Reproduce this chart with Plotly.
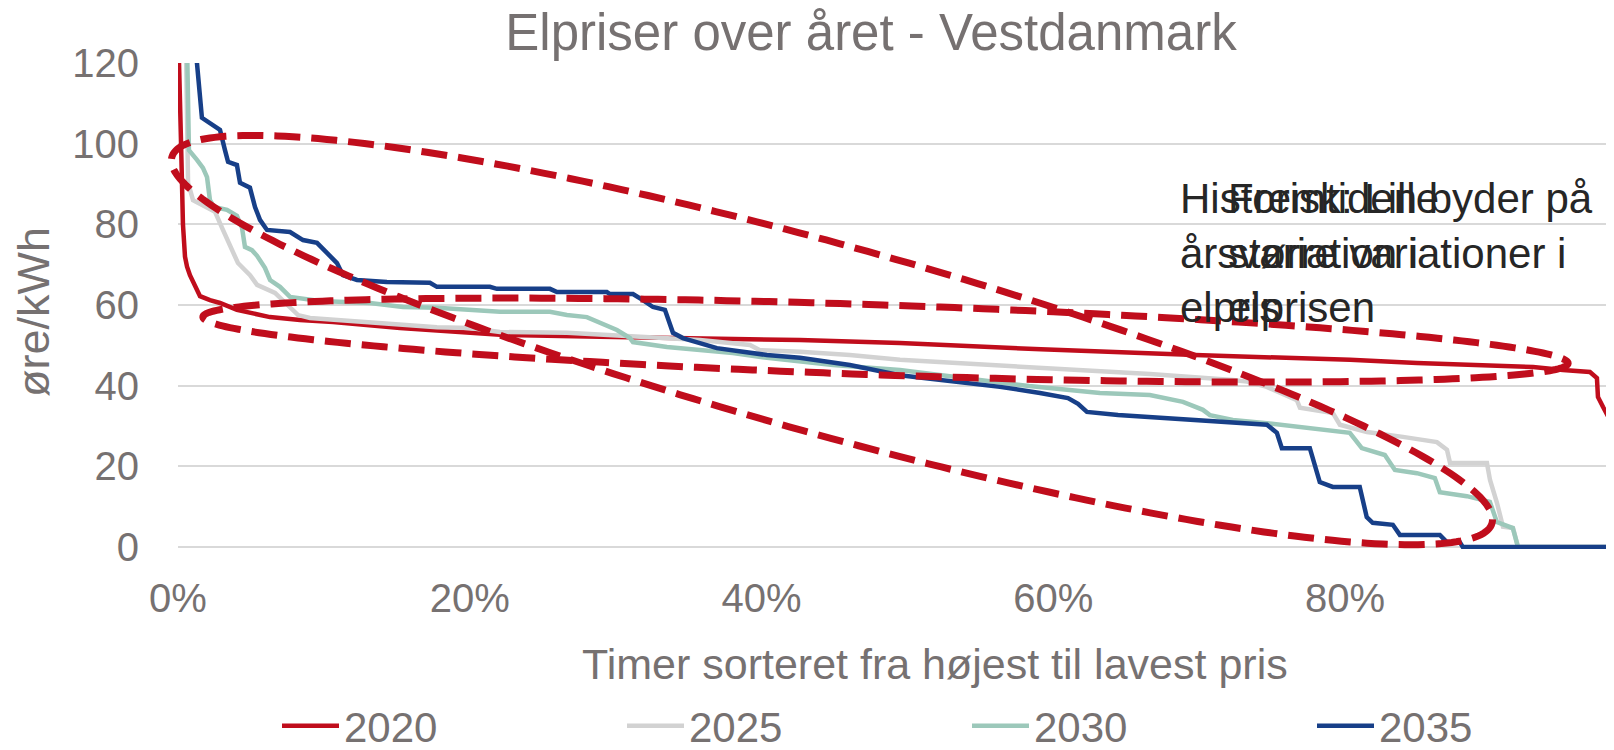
import numpy as np
import plotly.graph_objects as go

# ---------------- data (share of hours, sorted high -> low ; price in øre/kWh) -------------
hours_2020 = [0.0, 0.0007, 0.0021, 0.0034, 0.0048, 0.0062, 0.0082, 0.0117, 0.0151, 0.0219,
              0.0288, 0.0404, 0.063, 0.0836, 0.1063, 0.1522, 0.2207, 0.2893, 0.3578, 0.4264,
              0.4949, 0.5916, 0.6972, 0.776, 0.8034, 0.8493, 0.8946, 0.9289, 0.9494, 0.9679,
              0.9727, 0.9734, 0.9769, 0.9817, 0.9844]
price_2020 = [250, 120, 100, 80, 72, 69.5, 67.4, 64.5, 62.2, 61.2,
              60.5, 58.8, 57.0, 56.3, 55.8, 54.3, 52.6, 52.1, 51.8, 51.3,
              50.6, 49.0, 47.6, 46.9, 46.4, 45.6, 45.1, 44.6, 43.9, 43.4,
              41.9, 37.2, 34.7, 31.5, 29.0]

hours_2025 = [0.0, 0.0055, 0.0069, 0.0103, 0.0185, 0.0254, 0.0302, 0.0356, 0.0411, 0.0494,
              0.0542, 0.0665, 0.0747, 0.0823, 0.0905, 0.109, 0.1316, 0.1522, 0.1775, 0.2001,
              0.2207, 0.2666, 0.3119, 0.3578, 0.3921, 0.3989, 0.4264, 0.4606, 0.4949, 0.5916,
              0.6663, 0.7232, 0.7328, 0.7464, 0.767, 0.7691, 0.7917, 0.7965, 0.815, 0.8397,
              0.863, 0.8699, 0.872, 0.8973, 0.8994, 0.9042, 0.9083, 0.9152, 0.9179, 0.9186,
              0.9844]
price_2025 = [250, 120, 90.3, 86.0, 84.3, 83.1, 79.1, 74.9, 70.4, 67.4,
              65.0, 63.0, 60.0, 57.5, 56.8, 56.3, 55.8, 55.0, 54.5, 54.3,
              53.3, 53.1, 52.1, 51.3, 50.1, 48.8, 48.4, 47.6, 46.4, 44.4,
              42.9, 41.4, 41.0, 39.7, 36.4, 34.5, 33.2, 30.3, 28.5, 27.3,
              26.0, 24.1, 20.8, 20.8, 16.6, 10.9, 5.0, 4.7, 1.2, 0,
              0]

hours_2030 = [0.0, 0.0068, 0.0075, 0.013, 0.0171, 0.0199, 0.0219, 0.0247, 0.0336, 0.0404,
              0.0439, 0.0459, 0.0507, 0.0542, 0.0596, 0.0631, 0.0699, 0.0768, 0.0973, 0.1316,
              0.1542, 0.1775, 0.2001, 0.2207, 0.255, 0.2666, 0.2803, 0.2893, 0.3009, 0.3098,
              0.3119, 0.3352, 0.3578, 0.3804, 0.4037, 0.4264, 0.449, 0.4949, 0.5395, 0.5834,
              0.632, 0.6662, 0.6889, 0.7026, 0.7074, 0.7231, 0.7464, 0.769, 0.8033, 0.8115,
              0.8273, 0.8342, 0.8493, 0.8616, 0.865, 0.8835, 0.8993, 0.9041, 0.915, 0.9178,
              0.9185, 0.9844]
price_2030 = [250, 120, 98.4, 96.0, 94.0, 91.7, 86.0, 84.3, 83.6, 82.1,
              79.1, 74.4, 73.6, 72.2, 69.2, 66.2, 64.5, 62.0, 61.0, 60.5,
              59.5, 59.3, 58.8, 58.3, 58.3, 57.5, 57.0, 55.5, 53.8, 51.8,
              50.8, 49.6, 48.8, 48.1, 46.9, 45.9, 45.1, 43.9, 41.9, 39.9,
              38.2, 37.7, 36.0, 34.0, 32.7, 31.5, 30.7, 29.8, 28.3, 24.5,
              22.8, 19.1, 18.3, 17.1, 13.6, 12.6, 11.2, 6.2, 4.7, 1.0,
              0, 0]

hours_2035 = [0.0, 0.0130, 0.0164, 0.024, 0.0288, 0.0322, 0.0343, 0.0404, 0.0425, 0.0493,
              0.0528, 0.0562, 0.061, 0.0768, 0.0857, 0.0953, 0.1021, 0.109, 0.1131, 0.1227,
              0.1432, 0.1727, 0.1775, 0.2138, 0.2186, 0.255, 0.2598, 0.294, 0.2961, 0.3119,
              0.3187, 0.3256, 0.3338, 0.3372, 0.3393, 0.3461, 0.3578, 0.3694, 0.3873, 0.4037,
              0.4263, 0.4606, 0.4949, 0.5292, 0.5635, 0.5909, 0.6101, 0.617, 0.6231, 0.6444,
              0.6972, 0.7465, 0.7533, 0.7567, 0.7759, 0.7807, 0.7827, 0.7916, 0.8101, 0.8149,
              0.819, 0.8328, 0.8376, 0.865, 0.8698, 0.8787, 0.8807, 0.9844]
price_2035 = [250, 120, 106.4, 104.6, 103.4, 98.4, 95.5, 94.7, 90.3, 89.1,
              84.3, 81.1, 78.6, 78.1, 76.1, 75.4, 73.1, 70.4, 67.4, 66.2,
              65.7, 65.5, 64.5, 64.5, 64.0, 64.0, 63.2, 63.2, 62.7, 62.7,
              61.2, 59.5, 58.8, 55.5, 53.1, 51.8, 50.6, 49.3, 48.4, 47.6,
              46.9, 45.1, 42.6, 41.2, 39.7, 38.2, 36.9, 35.5, 33.5, 32.7,
              31.5, 30.3, 28.3, 24.5, 24.5, 19.1, 16.1, 14.9, 14.9, 7.4,
              6.0, 5.5, 3.0, 3.0, 1.2, 1.2, 0, 0]

series_names = ["2020", "2025", "2030", "2035"]
y_ticks = [0, 20, 40, 60, 80, 100, 120]
x_ticks = [0.0, 0.2, 0.4, 0.6, 0.8]
x_tick_text = ["0%", "20%", "40%", "60%", "80%"]

title_text = "Elpriser over året - Vestdanmark"
x_title = "Timer sorteret fra højest til lavest pris"
y_title = "øre/kWh"
note_hist = "Historisk: Lille<br>årsvariation i<br>elpris"
note_future = "Fremtiden byder på<br>større variationer i<br>elprisen"

# ---------------- styling ----------------
COLORS = ["#C00D1C", "#D2D2D2", "#9CC8BA", "#173F88"]
RED = "#C00D1C"
GREY_TXT = "#767171"
FONT = "Liberation Sans, Arial, Helvetica, sans-serif"

OFF = 8                      # page body margin of the html page
W, H = 1614 - OFF, 750 - OFF  # figure size so that it ends at the window edge
ML = 178 - OFF
MT = 63 - OFF
PLOT_BOTTOM = 549 - OFF
MB = H - PLOT_BOTTOM
X_RANGE = [0.0, 0.9844]
Y_RANGE = [-0.5, 120]

plot_w = W - ML
plot_h = PLOT_BOTTOM - MT
px_per_x = plot_w / (X_RANGE[1] - X_RANGE[0])
px_per_y = plot_h / (Y_RANGE[1] - Y_RANGE[0])


def paper_x(page_px):
    return (page_px - OFF - ML) / plot_w


def paper_y(page_px):
    return (PLOT_BOTTOM - (page_px - OFF)) / plot_h


# ellipse annotations: centre (data units), semi axes (px), clockwise tilt (deg)
ELLIPSES = [
    dict(cx=0.4483, cy=51.3, a=685, b=95, tilt=15.5),
    dict(cx=0.485, cy=51.3, a=683, b=35, tilt=1.95),
]

# one legend box per series (left edge of each entry, page px)
LEGEND_LEFT = [277, 622, 967, 1312]
LEGEND_MID_Y = 726
TITLE_MID_Y = 32


def ellipse_path(cx, cy, a, b, tilt, n=300):
    t = np.linspace(0, 2 * np.pi, n)
    th = np.radians(tilt)
    u = a * np.cos(t)
    v = b * np.sin(t)
    dx = u * np.cos(th) - v * np.sin(th)
    dy = u * np.sin(th) + v * np.cos(th)  # screen-down positive
    xd = cx + dx / px_per_x
    yd = cy - dy / px_per_y
    xp = (xd - X_RANGE[0]) / (X_RANGE[1] - X_RANGE[0])
    yp = (yd - Y_RANGE[0]) / (Y_RANGE[1] - Y_RANGE[0])
    pts = [f"{x:.5f},{y:.5f}" for x, y in zip(xp, yp)]
    return "M " + " L ".join(pts) + " Z"


fig = go.Figure()
all_x = [hours_2020, hours_2025, hours_2030, hours_2035]
all_y = [price_2020, price_2025, price_2030, price_2035]
legend_ids = ["legend", "legend2", "legend3", "legend4"]
for name, xs, ys, col, lid in zip(series_names, all_x, all_y, COLORS, legend_ids):
    assert len(xs) == len(ys), name
    fig.add_trace(go.Scatter(x=xs, y=ys, mode="lines", name=name, legend=lid,
                             line=dict(color=col, width=4.5)))

shapes = []
for e in ELLIPSES:
    shapes.append(dict(type="path", xref="paper", yref="paper",
                       path=ellipse_path(**e), layer="above",
                       line=dict(color=RED, width=7, dash="26px,11px")))

annotations = [
    dict(text=note_hist, x=0.6855, y=73.0, xref="x", yref="y", xanchor="left",
         yanchor="middle", align="left", showarrow=False,
         font=dict(family=FONT, size=42, color="#262626")),
    dict(text=note_future, x=0.7184, y=73.0, xref="x", yref="y", xanchor="left",
         yanchor="middle", align="left", showarrow=False,
         font=dict(family=FONT, size=42, color="#262626")),
    dict(text=x_title, x=paper_x(935), y=paper_y(664),
         xref="paper", yref="paper", xanchor="center", yanchor="middle",
         showarrow=False, font=dict(family=FONT, size=43, color=GREY_TXT)),
    dict(text=y_title, x=paper_x(33), y=paper_y(312), textangle=-90,
         xref="paper", yref="paper", xanchor="center", yanchor="middle",
         showarrow=False, font=dict(family=FONT, size=45, color=GREY_TXT)),
]

legend_layout = {}
for lid, left in zip(legend_ids, LEGEND_LEFT):
    legend_layout[lid] = dict(
        orientation="h", x=paper_x(left), xanchor="left", xref="paper",
        y=1 - (LEGEND_MID_Y - OFF) / H, yref="container", yanchor="middle",
        font=dict(family=FONT, size=42, color=GREY_TXT),
        itemwidth=57, bgcolor="rgba(0,0,0,0)")

fig.update_layout(
    width=W, height=H,
    margin=dict(l=ML, r=0, t=MT, b=MB, pad=0),
    plot_bgcolor="white", paper_bgcolor="white",
    font=dict(family=FONT, color=GREY_TXT),
    title=dict(text=title_text, x=(871 - OFF) / W, xref="container", xanchor="center",
               y=1 - (TITLE_MID_Y - OFF) / H, yref="container", yanchor="middle",
               font=dict(family=FONT, size=51, color=GREY_TXT)),
    showlegend=True,
    shapes=shapes,
    annotations=annotations,
    xaxis=dict(range=X_RANGE, tickvals=x_ticks, ticktext=x_tick_text,
               showgrid=False, zeroline=False, showline=False, ticks="",
               tickfont=dict(family=FONT, size=40, color=GREY_TXT),
               ticklabelstandoff=22, fixedrange=True),
    yaxis=dict(range=Y_RANGE, tickvals=y_ticks, showgrid=True,
               gridcolor="#D9D9D9", gridwidth=1.6, zeroline=False,
               showline=False, ticks="",
               tickfont=dict(family=FONT, size=40, color=GREY_TXT),
               ticklabelstandoff=38, fixedrange=True),
    **legend_layout,
)

fig.write_html("out.html")
